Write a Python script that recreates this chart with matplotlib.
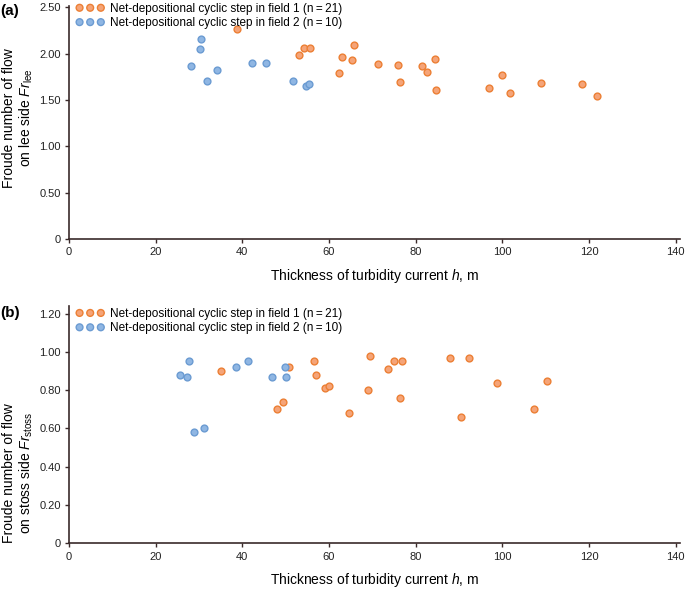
import matplotlib
matplotlib.use('Agg')
import matplotlib.pyplot as plt
from matplotlib.ticker import FuncFormatter

plt.rcParams['font.family'] = ['Liberation Sans', 'DejaVu Sans']
plt.rcParams['mathtext.fontset'] = 'custom'
plt.rcParams['mathtext.rm'] = 'Liberation Sans'
plt.rcParams['mathtext.it'] = 'Liberation Sans:italic'

# (a) Froude number on lee side
h1_lee = [38.7, 53.1, 54.3, 55.7, 62.4, 62.9, 65.2, 65.8, 71.4, 75.9, 76.5,
          81.5, 82.7, 84.4, 84.6, 97.0, 99.9, 101.8, 108.9, 118.4, 121.8]
fr1_lee = [2.27, 1.99, 2.06, 2.06, 1.79, 1.97, 1.93, 2.09, 1.89, 1.88, 1.69,
           1.87, 1.80, 1.94, 1.61, 1.63, 1.77, 1.58, 1.68, 1.67, 1.54]
h2_lee = [28.1, 30.2, 30.4, 31.8, 34.2, 42.3, 45.5, 51.7, 54.8, 55.5]
fr2_lee = [1.87, 2.05, 2.16, 1.71, 1.82, 1.90, 1.90, 1.71, 1.65, 1.67]

# (b) Froude number on stoss side
h1_stoss = [35.1, 48.1, 49.3, 50.7, 56.5, 57.1, 59.0, 59.9, 64.7, 68.9, 69.4,
            73.7, 75.0, 76.5, 76.8, 88.0, 90.5, 92.3, 98.8, 107.2, 110.3]
fr1_stoss = [0.90, 0.70, 0.74, 0.92, 0.95, 0.88, 0.81, 0.82, 0.68, 0.80, 0.98,
             0.91, 0.95, 0.76, 0.95, 0.97, 0.66, 0.97, 0.84, 0.70, 0.85]
h2_stoss = [25.7, 27.3, 27.8, 28.9, 31.1, 38.5, 41.3, 46.8, 49.8, 50.1]
fr2_stoss = [0.88, 0.87, 0.95, 0.58, 0.60, 0.92, 0.95, 0.87, 0.92, 0.87]

xticks = [0, 20, 40, 60, 80, 100, 120, 140]
label1 = 'Net-depositional cyclic step in field 1 (n\u2009=\u200921)'
label2 = 'Net-depositional cyclic step in field 2 (n\u2009=\u200910)'

orange_face, orange_edge = '#f5a478', '#ec7f34'
blue_face, blue_edge = '#8fb6e3', '#6b9bd2'
spine_col = '#3a2a2a'

W, H = 685, 590
fig = plt.figure(figsize=(6.85, 5.9), dpi=100)
ax_a = fig.add_axes([0.1007, 0.595, 0.892, 0.3955])
ax_b = fig.add_axes([0.1007, 0.0792, 0.892, 0.4022])


def fmt(v, pos):
    return '0' if abs(v) < 1e-9 else f'{v:.2f}'


def style(ax, ylim, yticks, ylabel, label_y, leg_y):
    ax.set_xlim(0, 141)
    ax.set_ylim(*ylim)
    ax.set_xticks(xticks)
    ax.set_yticks(yticks)
    ax.yaxis.set_major_formatter(FuncFormatter(fmt))
    for s in ['top', 'right']:
        ax.spines[s].set_visible(False)
    for s in ['left', 'bottom']:
        ax.spines[s].set_color(spine_col)
        ax.spines[s].set_linewidth(1.2)
    ax.tick_params(direction='out', length=3, width=1, color=spine_col,
                   labelsize=8, labelcolor='#222222', pad=3)
    ax.set_xlabel('Thickness of turbidity current $h$, m', fontsize=10, labelpad=7)
    ax.set_ylabel(ylabel, fontsize=10, linespacing=1.15)
    ax.yaxis.set_label_coords(-0.055, label_y)
    ax.legend(loc='upper left', bbox_to_anchor=(-0.002, leg_y), frameon=False,
              scatterpoints=3, scatteryoffsets=[0.5], fontsize=8.5,
              handlelength=2.4, handletextpad=0.5, labelspacing=0.2,
              borderaxespad=0.3)


for ax, h1, f1, h2, f2 in [(ax_a, h1_lee, fr1_lee, h2_lee, fr2_lee),
                           (ax_b, h1_stoss, fr1_stoss, h2_stoss, fr2_stoss)]:
    ax.scatter(h1, f1, s=24, facecolor=orange_face, edgecolor=orange_edge,
               linewidth=1.0, label=label1, zorder=3, clip_on=False)
    ax.scatter(h2, f2, s=24, facecolor=blue_face, edgecolor=blue_edge,
               linewidth=1.0, label=label2, zorder=3, clip_on=False)

style(ax_a, (0, 2.52), [0, 0.5, 1.0, 1.5, 2.0, 2.5],
      'Froude number of flow\non lee side $\\mathit{Fr}_{\\mathrm{lee}}$', 0.518, 1.047)
style(ax_b, (0, 1.24), [0, 0.2, 0.4, 0.6, 0.8, 1.0, 1.2],
      'Froude number of flow\non stoss side $\\mathit{Fr}_{\\mathrm{stoss}}$', 0.296, 1.026)

fig.text(0.0, 1 - 11 / H, '(a)', fontsize=11, fontweight='bold', ha='left', va='center')
fig.text(0.0, 1 - 313 / H, '(b)', fontsize=11, fontweight='bold', ha='left', va='center')

fig.savefig('out.png', dpi=100)
